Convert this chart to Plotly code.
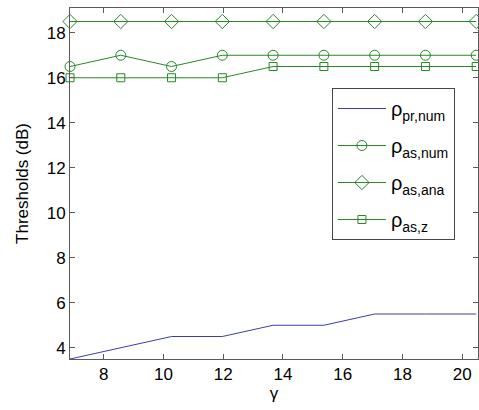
import plotly.graph_objects as go

gamma = [6.87, 8.57, 10.27, 11.97, 13.67, 15.37, 17.07, 18.77, 20.47]
rho_pr_num = [3.5, 4.0, 4.5, 4.5, 5.0, 5.0, 5.5, 5.5, 5.5]
rho_as_num = [16.5, 17.0, 16.5, 17.0, 17.0, 17.0, 17.0, 17.0, 17.0]
rho_as_ana = [18.5, 18.5, 18.5, 18.5, 18.5, 18.5, 18.5, 18.5, 18.5]
rho_as_z = [16.0, 16.0, 16.0, 16.0, 16.5, 16.5, 16.5, 16.5, 16.5]
x_ticks = [8, 10, 12, 14, 16, 18, 20]
y_ticks = [4, 6, 8, 10, 12, 14, 16, 18]

green = "rgb(40,135,40)"
blue = "rgb(60,60,175)"
font = "Liberation Sans, Arial, sans-serif"

fig = go.Figure()
fig.add_trace(go.Scatter(x=gamma, y=rho_pr_num, mode="lines", name="ρ<sub>pr,num</sub>",
                         legendgroup="a", line=dict(color=blue, width=1)))
fig.add_trace(go.Scatter(x=gamma, y=rho_as_num, mode="lines+markers", name="ρ<sub>as,num</sub>",
                         legendgroup="b", line=dict(color=green, width=1), cliponaxis=False,
                         marker=dict(symbol="circle-open", size=10, color=green, line=dict(width=1))))
fig.add_trace(go.Scatter(x=gamma, y=rho_as_ana, mode="lines+markers", name="ρ<sub>as,ana</sub>",
                         legendgroup="c", line=dict(color=green, width=1), cliponaxis=False,
                         marker=dict(symbol="diamond-open", size=11, color=green, line=dict(width=1))))
fig.add_trace(go.Scatter(x=gamma, y=rho_as_z, mode="lines+markers", name="ρ<sub>as,z</sub>",
                         legendgroup="d", line=dict(color=green, width=1), cliponaxis=False,
                         marker=dict(symbol="square-open", size=8, color=green, line=dict(width=1))))

axis_common = dict(showline=True, linecolor="rgb(90,90,90)", linewidth=1, mirror="ticks",
                   ticks="inside", ticklen=5, tickcolor="rgb(90,90,90)", showgrid=False,
                   zeroline=False, tickfont=dict(size=17, color="black", family=font))

fig.update_layout(
    width=479, height=410,
    margin=dict(l=70, r=1, t=8, b=51),
    paper_bgcolor="white", plot_bgcolor="white",
    font=dict(family=font, size=17, color="black"),
    xaxis=dict(range=[6.87, 20.53], tickvals=x_ticks,
               title=dict(text="γ", font=dict(size=17), standoff=2), **axis_common),
    yaxis=dict(range=[3.5, 19.1], tickvals=y_ticks,
               title=dict(text="Thresholds (dB)", font=dict(size=17), standoff=13), **axis_common),
    legend=dict(x=0.642, y=0.772, xanchor="left", yanchor="top",
                bgcolor="white", bordercolor="rgb(70,70,70)", borderwidth=1,
                font=dict(size=20, family=font), tracegroupgap=8, itemwidth=48),
    showlegend=True,
)

fig.write_html("out.html", config={"displayModeBar": False},
               post_script="document.body.style.margin='0';document.body.style.overflow='hidden';")
